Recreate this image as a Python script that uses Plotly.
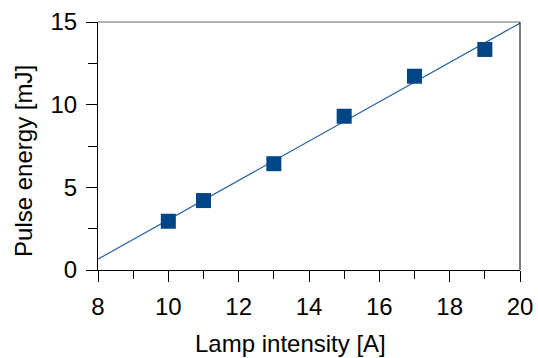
import numpy as np
import plotly.graph_objects as go

# Measured lamp current vs. pulse energy
lamp_current = [10, 11, 13, 15, 17, 19]
pulse_energy = [2.95, 4.2, 6.43, 9.3, 11.72, 13.34]

x_ticks = [8, 10, 12, 14, 16, 18, 20]
y_ticks = [0, 5, 10, 15]

x_title = "Lamp intensity [A]"
y_title = "Pulse energy [mJ]"

# Least-squares linear fit drawn across the full x range
slope, intercept = np.polyfit(lamp_current, pulse_energy, 1)
fit_x = [8, 20]
fit_y = [slope * v + intercept for v in fit_x]

fig = go.Figure()
fig.add_trace(go.Scatter(
    x=fit_x, y=fit_y, mode="lines",
    line=dict(color="#2566a8", width=1.2),
    showlegend=False, hoverinfo="skip",
))
fig.add_trace(go.Scatter(
    x=lamp_current, y=pulse_energy, mode="markers",
    marker=dict(symbol="square", size=15, color="#004586",
                line=dict(width=0)),
    showlegend=False,
))

font = "Liberation Sans, Arial, sans-serif"
fig.update_layout(
    width=538, height=358,
    margin=dict(l=98, r=18, t=22, b=88),
    paper_bgcolor="white", plot_bgcolor="white",
    font=dict(family=font, size=24, color="black"),
    shapes=[
        dict(type="line", xref="paper", yref="paper", x0=0, x1=1, y0=1, y1=1,
             line=dict(color="#666666", width=1)),
        dict(type="line", xref="paper", yref="paper", x0=1, x1=1, y0=0, y1=1,
             line=dict(color="black", width=1)),
    ],
    # Axis titles placed as annotations so they can sit off-centre
    annotations=[
        dict(text=x_title, xref="paper", yref="paper", x=0.455, y=-0.297,
             xanchor="center", yanchor="middle", showarrow=False,
             font=dict(size=24)),
        dict(text=y_title, xref="paper", yref="paper", x=-0.1767, y=0.4415,
             xanchor="center", yanchor="middle", showarrow=False,
             textangle=-90, font=dict(size=24)),
    ],
)
fig.update_xaxes(
    range=[8, 20], tickvals=x_ticks, ticks="outside", ticklen=11,
    tickcolor="black", tickwidth=1, automargin=False,
    showline=True, linecolor="black", linewidth=1, showgrid=False,
    zeroline=False, ticklabelstandoff=4,
    minor=dict(dtick=1, ticks="outside", ticklen=8, tickcolor="black"),
)
fig.update_yaxes(
    range=[0, 15], tickvals=y_ticks, ticks="outside", ticklen=11,
    tickcolor="black", tickwidth=1, automargin=False,
    showline=True, linecolor="black", linewidth=1, showgrid=False,
    zeroline=False, ticklabelstandoff=4,
    minor=dict(dtick=2.5, ticks="outside", ticklen=9, tickcolor="black"),
)

fig.write_html("out.html")
